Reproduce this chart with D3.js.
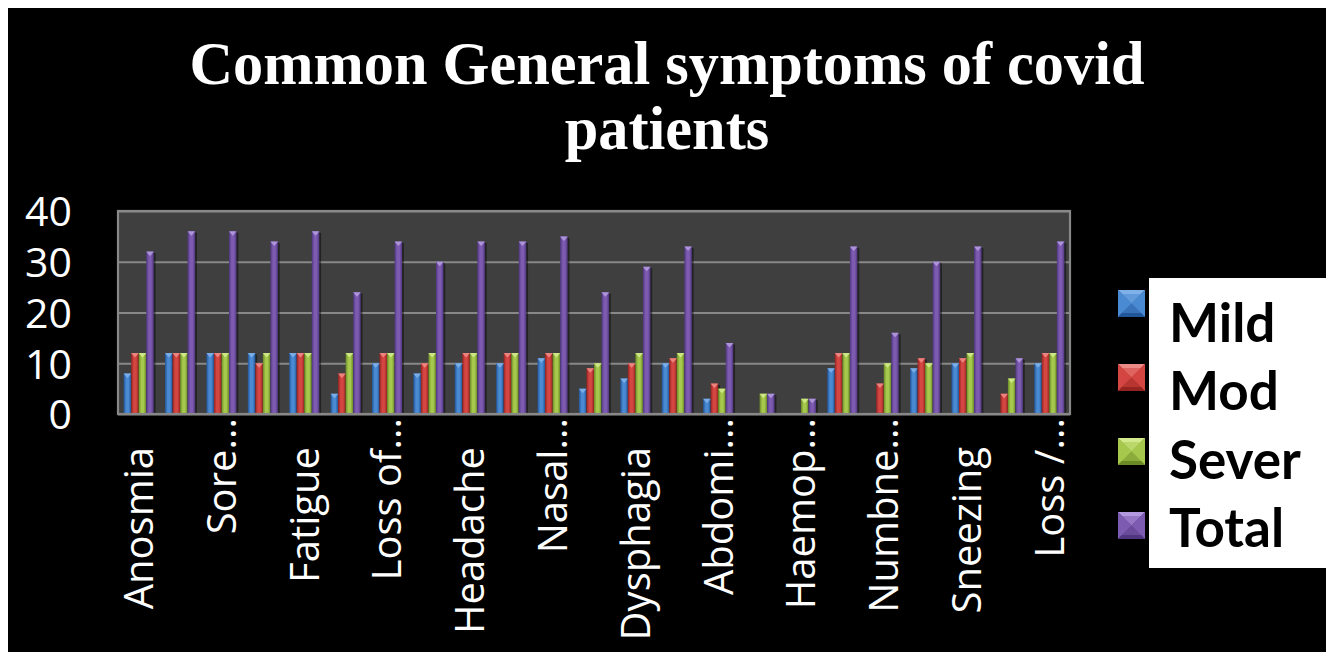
<!DOCTYPE html>
<html>
<head>
<meta charset="utf-8">
<script src="https://cdn.jsdelivr.net/npm/d3@7"></script>
<style>
  html, body { margin: 0; padding: 0; background: #ffffff; }
  svg { display: block; }
</style>
</head>
<body>
<svg id="chart" width="1333" height="660"></svg>
<script>
// ---------- data ----------
const title = ["Common General symptoms of covid", "patients"];
const categories = [
  "Anosmia", "Fever", "Sore...", "Cough", "Fatigue", "Myalgia", "Loss of...",
  "Dyspnea", "Headache", "Chest pain", "Nasal...", "Rhinorrhea", "Dysphagia",
  "Diarrhea", "Abdomi...", "Vomiting", "Haemop...", "Chills", "Numbne...",
  "Nausea", "Sneezing", "Conjunctivitis", "Loss /..."
];
const seriesNames = ["Mild", "Mod", "Sever", "Total"];
const mild  = [8, 12, 12, 12, 12, 4, 10, 8, 10, 10, 11, 5, 7, 10, 3, 0, 0, 9, 0, 9, 10, 0, 10];
const mod   = [12, 12, 12, 10, 12, 8, 12, 10, 12, 12, 12, 9, 10, 11, 6, 0, 0, 12, 6, 11, 11, 4, 12];
const sever = [12, 12, 12, 12, 12, 12, 12, 12, 12, 12, 12, 10, 12, 12, 5, 4, 3, 12, 10, 10, 12, 7, 12];
const total = [32, 36, 36, 34, 36, 24, 34, 30, 34, 34, 35, 24, 29, 33, 14, 4, 3, 33, 16, 30, 33, 11, 34];
const yTicks = [0, 10, 20, 30, 40];

// ---------- styles ----------
const seriesColors = {
  Mild:  { edge: "#22569a", mid: "#4a8ad2", cap: "#7fb0e8" },
  Mod:   { edge: "#952421", mid: "#d44642", cap: "#ee8a86" },
  Sever: { edge: "#6a8a26", mid: "#a6c84c", cap: "#d2ea8c" },
  Total: { edge: "#503680", mid: "#7d5bb0", cap: "#b39ade" }
};

const svg = d3.select("#chart");
const W = 1333, H = 660;

// black chart background
svg.append("rect").attr("x", 8).attr("y", 8).attr("width", 1318).attr("height", 644).attr("fill", "#000");

// gradients
const defs = svg.append("defs");
seriesNames.forEach(s => {
  const c = seriesColors[s];
  const g = defs.append("linearGradient").attr("id", "g-" + s)
    .attr("x1", "0%").attr("x2", "100%").attr("y1", "0%").attr("y2", "0%");
  g.append("stop").attr("offset", "0%").attr("stop-color", c.edge);
  g.append("stop").attr("offset", "35%").attr("stop-color", c.mid);
  g.append("stop").attr("offset", "65%").attr("stop-color", c.mid);
  g.append("stop").attr("offset", "100%").attr("stop-color", c.edge);
});

// ---------- title ----------
const titleG = svg.append("g").attr("font-family", "'Liberation Serif', 'DejaVu Serif', serif")
  .attr("font-weight", "bold").attr("fill", "#fff").attr("text-anchor", "middle");
const t1 = titleG.append("text").attr("x", 667).attr("y", 84).attr("font-size", 58).text(title[0]);
const len = t1.node().getComputedTextLength();
const fs = 58 * 955 / len;
t1.attr("font-size", fs);
titleG.append("text").attr("x", 667).attr("y", 149).attr("font-size", fs).text(title[1]);

// ---------- scales ----------
const plot = { left: 118, right: 1070, top: 211, bottom: 414 };
const x = d3.scaleBand().domain(categories).range([plot.left, plot.right])
  .paddingInner(1.5 / 5.5).paddingOuter(0.75 / 5.5);
const xs = d3.scaleBand().domain(seriesNames).range([0, x.bandwidth()]);
const y = d3.scaleLinear().domain([0, 40]).range([plot.bottom, plot.top]);

// plot area
svg.append("rect").attr("x", plot.left).attr("y", plot.top)
  .attr("width", plot.right - plot.left).attr("height", plot.bottom - plot.top)
  .attr("fill", "#3f3f3f");

// gridlines
const grid = svg.append("g").attr("transform", `translate(${plot.left},0)`)
  .call(d3.axisLeft(y).tickValues(yTicks).tickSize(-(plot.right - plot.left)).tickFormat(""));
grid.select(".domain").remove();
grid.selectAll("line").attr("stroke", "#888").attr("stroke-width", 2.2);

// bars
const table = categories.map((c, i) => ({
  cat: c,
  vals: [
    { s: "Mild", v: mild[i] }, { s: "Mod", v: mod[i] },
    { s: "Sever", v: sever[i] }, { s: "Total", v: total[i] }
  ]
}));
const groups = svg.append("g").selectAll("g").data(table).join("g")
  .attr("transform", d => `translate(${x(d.cat)},0)`);
const bars = groups.selectAll("g").data(d => d.vals.filter(v => v.v > 0)).join("g");
const bw = xs.bandwidth();
bars.append("rect")
  .attr("x", d => xs(d.s) + 1.8).attr("y", d => y(d.v) + 1.5)
  .attr("width", bw).attr("height", d => y(0) - y(d.v) - 1.5)
  .attr("fill", "rgba(0,0,0,0.45)");
bars.append("rect")
  .attr("x", d => xs(d.s)).attr("y", d => y(d.v))
  .attr("width", bw).attr("height", d => y(0) - y(d.v))
  .attr("fill", d => `url(#g-${d.s})`);
bars.append("polygon")
  .attr("points", d => {
    const x0 = xs(d.s), y0 = y(d.v);
    return [[x0, y0], [x0 + bw, y0], [x0 + bw - 1.5, y0 + 2], [x0 + bw / 2, y0 + 4.5], [x0 + 1.5, y0 + 2]]
      .map(p => p.join(",")).join(" ");
  })
  .attr("fill", d => seriesColors[d.s].cap).attr("opacity", 0.9);

// plot border
svg.append("rect").attr("x", plot.left).attr("y", plot.top)
  .attr("width", plot.right - plot.left).attr("height", plot.bottom - plot.top)
  .attr("fill", "none").attr("stroke", "#888").attr("stroke-width", 2.2);

// y axis labels
const yAxis = svg.append("g").attr("transform", `translate(72,0)`)
  .call(d3.axisLeft(y).tickValues(yTicks).tickSize(0).tickPadding(0));
yAxis.select(".domain").remove();
yAxis.selectAll("text").attr("fill", "#fff").attr("font-family", "'Open Sans', sans-serif")
  .attr("font-size", 41).attr("dy", "0.36em");

// x axis labels (every other category)
const shown = categories.filter((c, i) => i % 2 === 0);
const xAxis = svg.append("g").attr("transform", `translate(0,${plot.bottom})`)
  .call(d3.axisBottom(x).tickValues(shown).tickSize(0).tickPadding(0));
xAxis.select(".domain").remove();
xAxis.selectAll("text")
  .attr("fill", "#fff").attr("font-family", "'Open Sans', sans-serif").attr("font-size", 40)
  .attr("text-anchor", "end")
  .attr("transform", d => `translate(0,${d.endsWith("...") ? 4 : 33}) rotate(-90)`)
  .attr("x", 0).attr("y", 0).attr("dy", "0.36em");

// ---------- legend ----------
svg.append("rect").attr("x", 1149).attr("y", 278).attr("width", 177).attr("height", 290).attr("fill", "#fff");
const markerY = d3.scalePoint().domain(seriesNames).range([303.5, 525.5]);
const textY = d3.scalePoint().domain(seriesNames).range([342, 547]);
const lg = svg.append("g");
seriesNames.forEach(s => {
  const c = seriesColors[s];
  const cx = 1131.5, cy = markerY(s), h = 13.5, inset = 4;
  const m = lg.append("g");
  // faces of bevelled square
  m.append("rect").attr("x", cx - h).attr("y", cy - h).attr("width", 2 * h).attr("height", 2 * h).attr("fill", c.edge);
  m.append("polygon").attr("points", `${cx - h},${cy - h} ${cx + h},${cy - h} ${cx},${cy}`).attr("fill", c.cap);
  m.append("polygon").attr("points", `${cx - h},${cy - h} ${cx - h},${cy + h} ${cx},${cy}`).attr("fill", c.mid);
  m.append("polygon").attr("points", `${cx + h},${cy - h} ${cx + h},${cy + h} ${cx},${cy}`).attr("fill", c.mid);
  m.append("polygon").attr("points", `${cx - h},${cy + h} ${cx + h},${cy + h} ${cx},${cy}`).attr("fill", c.edge);
  m.append("rect").attr("x", cx - h + inset).attr("y", cy - h + inset)
    .attr("width", 2 * (h - inset)).attr("height", 2 * (h - inset)).attr("fill", c.mid).attr("opacity", 0.55);
  lg.append("text").attr("x", 1169).attr("y", textY(s))
    .attr("font-family", "Lato, 'Open Sans', sans-serif").attr("font-weight", "bold")
    .attr("font-size", 53).attr("fill", "#000").text(s);
});
</script>
</body>
</html>
